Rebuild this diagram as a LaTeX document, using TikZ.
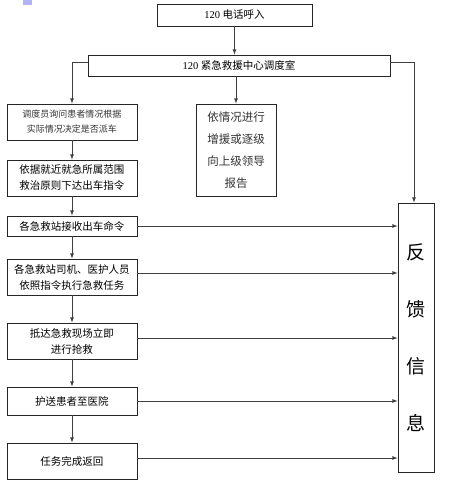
\documentclass[tikz,border=0pt]{standalone}
\usepackage{fontspec}
\setmainfont{Liberation Serif}
\newfontfamily\cjk{Noto Sans CJK SC}
\usetikzlibrary{arrows,shapes,backgrounds}

\tikzset{
  box/.style={draw=black!85, line width=0.8pt, fill=white, align=center,
    inner sep=1pt, font=\cjk\fontsize{10.5}{16}\selectfont},
  leftbox/.style={box, minimum width=130pt, text width=126pt},
  link/.style={draw=black!75, line width=0.8pt, -latex},
}

\begin{document}
\begin{tikzpicture}[x=1pt, y=-1pt]
      \useasboundingbox (0,0) rectangle (463,480);
%      \draw [help lines] (0,0) grid[step=20] (463,480);
      \fill [blue!30!white] (23,0) rectangle (32,5);
      % top of the chart
      \node [box, minimum width=155pt, minimum height=22pt] (call) at (234.5,15) {{\rmfamily 120} 电话呼入};
      \node [box, minimum width=302pt, minimum height=21pt] (centre) at (239,65.5) {{\rmfamily 120} 紧急救援中心调度室};
      \node [box, minimum width=80pt, text width=76pt, minimum height=92pt,
        font=\cjk\fontsize{11.5}{22}\selectfont, text=black!80] (report) at (236,150)
        {依情况进行\\增援或逐级\\向上级领导\\报告};
      % left column
      \node [leftbox, minimum height=36pt, font=\cjk\fontsize{9}{15}\selectfont, text=black!80] (ask) at (72,122)
        {调度员询问患者情况根据\\实际情况决定是否派车};
      \node [leftbox, minimum height=36pt] (order) at (72,178) {依据就近就急所属范围\\救治原则下达出车指令};
      \node [leftbox, minimum height=20pt] (recv) at (72,226) {各急救站接收出车命令};
      \node [leftbox, minimum height=36pt] (exec) at (72,277) {各急救站司机、医护人员\\依照指令执行急救任务};
      \node [leftbox, minimum height=36pt] (rescue) at (72,341) {抵达急救现场立即\\进行抢救};
      \node [leftbox, minimum height=28pt] (carry) at (72,401) {护送患者至医院};
      \node [leftbox, minimum height=36pt] (back) at (72,461) {任务完成返回};
      % feedback column
      \node [box, minimum width=36pt, minimum height=269pt,
        font=\cjk\fontsize{19}{57}\selectfont] (feedback) at (416,337.5) {反\\馈\\信\\息};
      \draw [link] (call) -- (call |- centre.north);
      \draw [link] (centre.south -| report) -- (report);
      \draw [link] ([yshift=3.5pt]centre.west) -| (ask.north);
      \draw [link] ([yshift=3.5pt]centre.east) -| ([xshift=-2pt]feedback.north);
      \foreach \a/\b in {ask/order,order/recv,recv/exec,exec/rescue,rescue/carry,carry/back}
        \draw [link] (\a) -- (\b);
      \foreach \a/\d in {recv/0,exec/4,rescue/3,carry/0,back/3}
        \draw [link] ([yshift=\d pt]\a.east) -- ([yshift=\d pt]\a.east -| feedback.west);
    \end{tikzpicture}
\end{document}
